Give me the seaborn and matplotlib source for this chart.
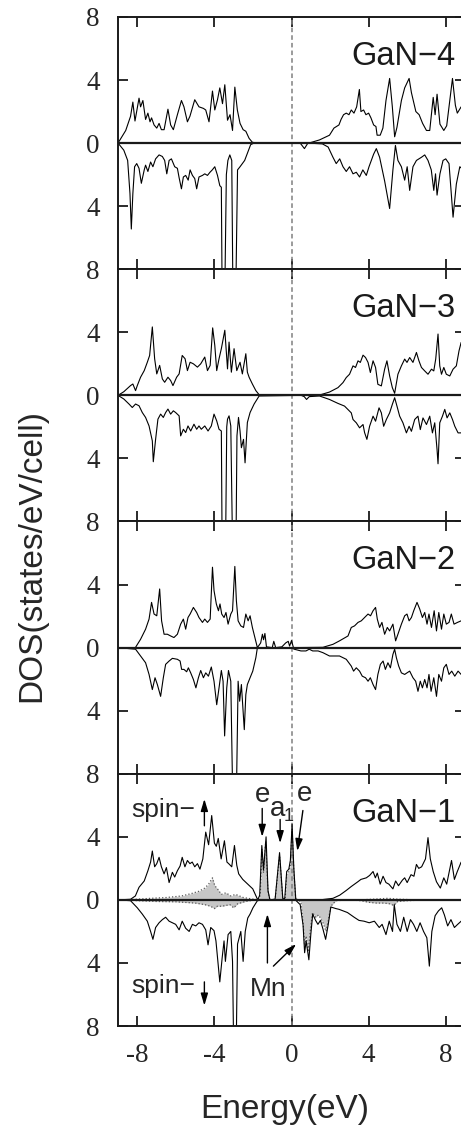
import seaborn as sns
import matplotlib.pyplot as plt
import pandas as pd

# DOS: (energy in eV, DOS). spin-down stored as magnitudes
gan4_up = [(-9.0, 0), (-8.6, 0.8), (-8.35, 1.7), (-8.23, 2.6), (-8.12, 1.4), (-7.91, 2.85), (-7.83, 2.3), (-7.71, 2.7),
           (-7.57, 1.5), (-7.45, 1.9), (-7.34, 1.35), (-7.26, 1.6), (-7.13, 1.15), (-6.99, 0.95), (-6.87, 1.25),
           (-6.75, 0.85), (-6.61, 0.85), (-6.41, 2.15), (-6.27, 1.15), (-6.13, 0.85), (-5.92, 1.8), (-5.71, 2.7),
           (-5.58, 2.3), (-5.40, 1.35), (-5.27, 1.7), (-5.02, 2.75), (-4.80, 2.3), (-4.57, 2.2), (-4.45, 2.1),
           (-4.28, 1.35), (-4.10, 3.3), (-3.98, 2.1), (-3.84, 2.75), (-3.72, 3.5), (-3.58, 2.5), (-3.46, 3.7),
           (-3.32, 1.45), (-3.19, 1.8), (-3.06, 0.8), (-2.94, 3.55), (-2.81, 2.1), (-2.67, 1.25), (-2.51, 0.85),
           (-2.37, 0.75), (-2.20, 0.3), (-2.03, 0.05), (-1.77, 0.0), (0.9, 0.0), (1.45, 0.2), (1.97, 0.5), (2.2, 0.95),
           (2.46, 1.15), (2.57, 1.5), (2.7, 1.8), (2.84, 1.9), (2.98, 1.8), (3.1, 2.1), (3.24, 1.9), (3.38, 2.3),
           (3.52, 3.4), (3.6, 2.0), (3.74, 2.1), (3.86, 1.8), (4.0, 1.9), (4.12, 1.6), (4.26, 1.15), (4.38, 1.05),
           (4.44, 0.5), (4.6, 0.5), (4.74, 0.95), (4.9, 2.7), (5.09, 4.1), (5.23, 2.3), (5.35, 0.4), (5.47, 1.0),
           (5.7, 2.7), (5.87, 3.5), (6.1, 4.1), (6.22, 3.2), (6.45, 2.0), (6.62, 1.8), (6.8, 1.25), (7.0, 0.8),
           (7.17, 0.8), (7.35, 2.9), (7.45, 1.8), (7.55, 3.1), (7.7, 1.2), (7.9, 0.8), (8.05, 1.1), (8.2, 2.6),
           (8.35, 4.1), (8.5, 2.4), (8.6, 1.9), (8.8, 2.3), (9.0, 2.0)]
gan4_dn = [(-9.0, 0), (-8.7, 0.45), (-8.5, 1.1), (-8.38, 3.2), (-8.31, 5.45), (-8.23, 3.2), (-8.14, 1.5), (-8.03, 1.3),
           (-7.91, 1.6), (-7.79, 2.55), (-7.64, 1.7), (-7.57, 1.4), (-7.45, 1.8), (-7.31, 1.2), (-7.19, 1.5),
           (-7.05, 1.0), (-6.87, 0.75), (-6.70, 0.85), (-6.58, 1.1), (-6.47, 1.95), (-6.35, 1.1), (-6.23, 1.0),
           (-6.06, 1.5), (-5.92, 1.6), (-5.83, 2.2), (-5.71, 2.9), (-5.61, 2.15), (-5.49, 2.05), (-5.36, 2.35),
           (-5.26, 1.7), (-5.14, 2.05), (-5.02, 2.25), (-4.92, 2.9), (-4.80, 2.15), (-4.62, 2.05), (-4.50, 1.95),
           (-4.36, 2.05), (-4.23, 1.85), (-4.11, 1.7), (-3.98, 1.5), (-3.84, 2.05), (-3.72, 2.7), (-3.64, 2.8),
           (-3.6, 9.5), (-3.46, 9.5), (-3.38, 2.0), (-3.30, 1.1), (-3.20, 0.75), (-3.1, 1.1), (-3.04, 9.5),
           (-2.89, 9.5), (-2.80, 1.7), (-2.67, 1.5), (-2.55, 1.3), (-2.43, 1.1), (-2.29, 0.65), (-2.12, 0.1),
           (-1.95, 0.0), (0.45, 0.0), (0.67, 0.35), (0.85, 0.0), (1.6, 0.05), (1.9, 0.25), (2.15, 0.9), (2.32, 1.3),
           (2.5, 1.0), (2.67, 1.5), (2.84, 1.8), (3.01, 1.5), (3.19, 1.95), (3.36, 1.85), (3.53, 2.15), (3.7, 1.7),
           (3.88, 2.05), (4.02, 1.5), (4.14, 1.1), (4.26, 0.7), (4.4, 0.35), (4.57, 0.9), (4.83, 2.4), (5.09, 4.15),
           (5.26, 1.7), (5.39, 0.15), (5.52, 1.1), (5.7, 1.5), (5.87, 2.35), (6.0, 1.5), (6.13, 3.0), (6.3, 1.5),
           (6.48, 1.1), (6.74, 0.9), (6.91, 0.75), (7.08, 1.1), (7.25, 1.7), (7.38, 3.0), (7.47, 1.95), (7.55, 3.3),
           (7.7, 1.95), (7.86, 1.1), (8.0, 1.0), (8.17, 1.3), (8.38, 4.7), (8.55, 2.6), (8.73, 1.5), (9.0, 1.8)]

gan3_up = [(-9.0, 0), (-8.7, 0.23), (-8.35, 0.62), (-8.23, 0.72), (-8.09, 0.3), (-8.0, 0.62), (-7.83, 1.15),
           (-7.64, 1.57), (-7.48, 2.1), (-7.36, 2.53), (-7.22, 4.34), (-7.1, 2.32), (-6.99, 1.36), (-6.84, 1.9),
           (-6.7, 1.04), (-6.58, 0.83), (-6.41, 1.15), (-6.27, 0.94), (-6.15, 0.62), (-5.96, 1.15), (-5.83, 1.36),
           (-5.67, 2.53), (-5.52, 2.32), (-5.4, 1.57), (-5.26, 2.1), (-5.09, 2.0), (-4.88, 1.79), (-4.71, 2.0),
           (-4.5, 2.43), (-4.36, 1.57), (-4.22, 1.9), (-4.09, 4.28), (-3.98, 3.17), (-3.88, 1.57), (-3.76, 2.32),
           (-3.64, 2.96), (-3.46, 4.13), (-3.32, 1.68), (-3.24, 3.38), (-3.12, 1.47), (-2.98, 2.96), (-2.84, 1.57),
           (-2.67, 2.1), (-2.55, 1.36), (-2.37, 2.64), (-2.29, 1.47), (-2.2, 1.15), (-2.03, 0.72), (-1.85, 0.3),
           (-1.68, 0.04), (-1.42, 0.05), (-1.0, 0.02), (0.9, 0.0), (1.45, 0.02), (1.97, 0.21), (2.41, 0.49),
           (2.67, 0.81), (2.84, 1.13), (3.01, 1.34), (3.19, 1.87), (3.32, 1.77), (3.45, 2.19), (3.57, 2.09),
           (3.71, 2.55), (3.84, 2.4), (3.97, 2.09), (4.09, 1.45), (4.23, 2.19), (4.36, 1.77), (4.48, 0.7), (4.66, 0.6),
           (4.83, 1.66), (4.95, 2.19), (5.09, 1.23), (5.23, 0.49), (5.35, 0.13), (5.52, 1.34), (5.7, 1.87),
           (5.87, 2.3), (5.99, 2.09), (6.13, 2.4), (6.3, 2.09), (6.48, 2.72), (6.61, 2.19), (6.74, 1.77), (6.91, 1.55),
           (7.08, 1.34), (7.26, 1.66), (7.38, 1.55), (7.48, 2.3), (7.6, 3.89), (7.69, 1.87), (7.78, 1.34), (7.9, 1.77),
           (8.03, 1.34), (8.21, 1.23), (8.38, 1.66), (8.55, 1.87), (8.69, 2.83), (8.8, 3.36), (9.0, 3.0)]
gan3_dn = [(-9.0, 0), (-8.7, 0.23), (-8.43, 0.55), (-8.26, 0.77), (-8.09, 0.55), (-7.91, 0.66), (-7.74, 1.09),
           (-7.57, 1.4), (-7.39, 1.94), (-7.22, 2.89), (-7.17, 4.21), (-7.05, 2.79), (-6.93, 1.51), (-6.79, 1.19),
           (-6.65, 1.4), (-6.53, 1.09), (-6.41, 0.87), (-6.27, 1.19), (-6.13, 0.98), (-6.01, 1.09), (-5.83, 1.3),
           (-5.75, 2.57), (-5.61, 2.15), (-5.49, 2.36), (-5.37, 1.94), (-5.23, 2.26), (-5.06, 1.83), (-4.92, 2.15),
           (-4.8, 1.94), (-4.68, 2.15), (-4.5, 1.94), (-4.33, 2.26), (-4.16, 1.94), (-4.02, 1.19), (-3.88, 1.62),
           (-3.76, 2.15), (-3.64, 2.26), (-3.6, 9.5), (-3.42, 9.5), (-3.36, 2.0), (-3.32, 1.51), (-3.24, 1.3),
           (-3.15, 1.94), (-3.06, 9.5), (-2.88, 9.5), (-2.83, 2.57), (-2.75, 1.4), (-2.67, 2.26), (-2.6, 3.32),
           (-2.49, 2.79), (-2.41, 4.28), (-2.29, 1.72), (-2.15, 1.09), (-1.94, 0.55), (-1.68, 0.04), (0.5, 0.0),
           (0.66, 0.08), (0.78, 0.26), (0.92, 0.08), (1.45, 0.04), (1.97, 0.26), (2.41, 0.51), (2.75, 0.68),
           (3.1, 1.11), (3.19, 1.53), (3.36, 1.74), (3.53, 2.06), (3.71, 1.85), (3.79, 2.36), (3.91, 2.79),
           (4.05, 1.96), (4.23, 1.32), (4.36, 1.64), (4.54, 0.79), (4.66, 1.11), (4.78, 1.96), (4.92, 1.53),
           (5.09, 1.11), (5.23, 0.57), (5.35, 0.15), (5.47, 0.68), (5.61, 1.32), (5.78, 1.74), (5.96, 2.38),
           (6.1, 1.96), (6.22, 2.28), (6.39, 1.53), (6.56, 1.32), (6.68, 2.17), (6.82, 1.43), (7.0, 1.85),
           (7.17, 1.32), (7.31, 2.38), (7.43, 1.74), (7.55, 3.45), (7.6, 4.34), (7.69, 1.74), (7.83, 1.32),
           (7.95, 0.89), (8.07, 1.43), (8.21, 1.11), (8.35, 1.53), (8.47, 1.96), (8.64, 2.38), (8.8, 2.38), (9.0, 2.0)]

gan2_up = [(-9.0, 0), (-8.1, 0.0), (-7.83, 0.53), (-7.57, 1.17), (-7.39, 1.81), (-7.26, 2.87), (-7.13, 2.13),
           (-6.99, 2.02), (-6.84, 3.72), (-6.74, 1.7), (-6.61, 0.85), (-6.44, 0.85), (-6.27, 0.74), (-6.1, 0.64),
           (-5.92, 0.85), (-5.75, 1.49), (-5.61, 1.81), (-5.49, 1.17), (-5.37, 1.91), (-5.26, 2.13), (-5.09, 2.55),
           (-4.92, 2.23), (-4.8, 1.91), (-4.62, 1.6), (-4.5, 1.81), (-4.36, 1.6), (-4.22, 1.81), (-4.1, 5.1),
           (-4.02, 3.62), (-3.9, 2.77), (-3.79, 2.34), (-3.71, 2.77), (-3.62, 2.13), (-3.5, 1.91), (-3.4, 2.23),
           (-3.29, 1.49), (-3.15, 2.13), (-3.06, 2.34), (-2.94, 5.15), (-2.86, 2.98), (-2.77, 1.7), (-2.63, 1.38),
           (-2.49, 1.28), (-2.37, 2.13), (-2.25, 1.7), (-2.15, 2.02), (-2.03, 1.28), (-1.9, 0.64), (-1.77, 0.0),
           (-1.6, 0.3), (-1.51, 0.85), (-1.45, 0.5), (-1.38, 0.9), (-1.3, 0.05), (-1.0, 0.0), (-0.92, 0.4),
           (-0.82, 0.0), (-0.5, 0.05), (-0.3, 0.3), (-0.17, 0.4), (-0.1, 0.1), (0.0, 0.45), (0.1, 0.0), (1.63, 0.02),
           (2.15, 0.21), (2.49, 0.43), (2.93, 0.74), (3.1, 1.28), (3.27, 1.38), (3.45, 1.6), (3.62, 1.7), (3.79, 1.91),
           (3.97, 2.13), (4.1, 2.02), (4.23, 2.34), (4.36, 2.55), (4.45, 1.81), (4.57, 1.28), (4.69, 1.6),
           (4.83, 0.85), (4.97, 1.28), (5.09, 1.06), (5.26, 1.49), (5.4, 0.43), (5.52, 0.85), (5.7, 1.49),
           (5.87, 2.02), (5.99, 2.13), (6.1, 1.7), (6.22, 1.91), (6.34, 2.34), (6.51, 2.87), (6.65, 2.45),
           (6.79, 1.91), (6.91, 2.23), (7.03, 1.49), (7.13, 2.13), (7.26, 1.28), (7.4, 2.34), (7.52, 1.06),
           (7.64, 2.23), (7.78, 1.17), (7.9, 2.13), (8.03, 1.49), (8.17, 1.6), (8.29, 2.13), (8.43, 1.49),
           (8.61, 1.6), (8.8, 1.7), (9.0, 1.6)]
gan2_dn = [(-9.0, 0), (-8.09, 0.1), (-7.83, 0.53), (-7.57, 0.96), (-7.39, 1.7), (-7.22, 2.66), (-7.08, 1.91),
           (-6.96, 2.34), (-6.79, 3.09), (-6.65, 1.91), (-6.53, 1.06), (-6.35, 0.85), (-6.18, 0.68), (-5.92, 0.74),
           (-5.78, 0.85), (-5.7, 1.38), (-5.58, 1.38), (-5.44, 1.53), (-5.35, 1.28), (-5.23, 1.6), (-5.09, 2.02),
           (-4.96, 2.55), (-4.83, 1.91), (-4.71, 1.45), (-4.57, 1.91), (-4.45, 1.6), (-4.31, 1.81), (-4.16, 1.23),
           (-4.02, 2.13), (-3.88, 3.62), (-3.76, 2.55), (-3.64, 1.45), (-3.55, 2.13), (-3.47, 5.6), (-3.36, 2.55),
           (-3.27, 1.45), (-3.15, 2.13), (-3.05, 9.5), (-2.86, 9.5), (-2.77, 2.13), (-2.69, 3.4), (-2.6, 2.34),
           (-2.45, 5.2), (-2.37, 2.98), (-2.29, 2.34), (-2.15, 1.91), (-2.01, 1.49), (-1.85, 0.64), (-1.77, 0.0),
           (0.0, 0.0), (0.14, 0.1), (0.49, 0.21), (0.75, 0.21), (0.92, 0.1), (1.1, 0.21), (1.38, 0.21), (1.63, 0.32),
           (1.97, 0.53), (2.49, 0.53), (2.84, 0.74), (3.1, 1.17), (3.22, 1.49), (3.36, 1.28), (3.53, 1.49),
           (3.67, 1.81), (3.84, 1.91), (3.97, 2.13), (4.09, 1.91), (4.23, 2.34), (4.36, 2.66), (4.48, 1.7),
           (4.61, 1.06), (4.75, 0.85), (4.87, 1.38), (5.0, 0.96), (5.13, 1.28), (5.26, 0.43), (5.35, 0.1),
           (5.44, 0.64), (5.56, 1.17), (5.7, 1.6), (5.87, 1.7), (5.99, 1.6), (6.13, 1.49), (6.3, 1.91), (6.44, 2.13),
           (6.56, 2.77), (6.68, 2.13), (6.79, 2.55), (6.91, 2.02), (7.03, 2.55), (7.13, 1.7), (7.24, 2.77),
           (7.38, 1.91), (7.52, 3.09), (7.64, 1.7), (7.78, 2.13), (7.9, 1.28), (8.03, 1.06), (8.17, 1.7),
           (8.31, 1.49), (8.47, 1.81), (8.64, 1.49), (8.8, 1.7), (9.0, 1.6)]

gan1_up = [(-9.0, 0), (-8.35, 0.04), (-8.1, 0.25), (-7.91, 0.8), (-7.64, 1.2), (-7.45, 1.85), (-7.31, 2.4),
           (-7.22, 3.1), (-7.1, 2.1), (-6.99, 2.3), (-6.87, 2.7), (-6.75, 2.1), (-6.61, 1.65), (-6.49, 2.05),
           (-6.35, 1.1), (-6.18, 1.75), (-6.06, 1.45), (-5.92, 1.85), (-5.78, 2.15), (-5.67, 2.7), (-5.53, 2.1),
           (-5.4, 2.5), (-5.27, 2.3), (-5.15, 2.4), (-5.02, 2.1), (-4.88, 2.3), (-4.75, 1.95), (-4.6, 2.6),
           (-4.45, 4.3), (-4.3, 3.5), (-4.14, 5.35), (-4.0, 3.6), (-3.9, 3.4), (-3.8, 3.9), (-3.65, 2.6), (-3.48, 3.75),
           (-3.35, 2.4), (-3.26, 2.3), (-3.1, 2.1), (-2.96, 3.45), (-2.84, 2.2), (-2.74, 1.65), (-2.53, 1.3),
           (-2.27, 1.0), (-2.01, 0.7), (-1.75, 0.0), (-1.65, 0.3), (-1.54, 3.45), (-1.45, 1.9), (-1.32, 4.0),
           (-1.22, 0.6), (-1.12, 0.0), (-0.85, 0.05), (-0.62, 3.0), (-0.45, 0.05), (-0.35, 0.1), (-0.25, 1.8),
           (-0.14, 1.95), (-0.06, 2.5), (0.03, 4.8), (0.12, 2.0), (0.22, 0.05), (0.4, 0.0), (1.2, 0.0), (1.6, 0.02),
           (2.15, 0.1), (2.5, 0.3), (2.84, 0.6), (3.1, 0.85), (3.44, 1.15), (3.6, 1.3), (3.88, 1.4), (4.05, 1.55),
           (4.23, 1.8), (4.35, 1.4), (4.45, 1.7), (4.6, 1.0), (4.75, 1.5), (4.9, 1.1), (5.05, 1.0), (5.26, 0.7),
           (5.4, 1.2), (5.55, 0.9), (5.75, 1.25), (5.87, 1.4), (6.0, 1.1), (6.2, 1.6), (6.35, 1.5), (6.48, 2.25),
           (6.6, 2.0), (6.75, 2.1), (6.95, 2.6), (7.08, 3.95), (7.2, 2.6), (7.35, 1.8), (7.52, 1.15), (7.72, 0.75),
           (7.9, 1.4), (8.05, 1.0), (8.3, 2.5), (8.45, 1.3), (8.6, 1.8), (8.8, 2.4), (9.0, 1.8)]
gan1_dn = [(-9.0, 0), (-8.35, 0.05), (-8.0, 0.5), (-7.74, 0.9), (-7.48, 1.35), (-7.31, 2.0), (-7.19, 2.5),
           (-7.05, 1.75), (-6.87, 1.45), (-6.7, 1.25), (-6.53, 1.1), (-6.35, 1.35), (-6.18, 1.45), (-6.01, 1.55),
           (-5.83, 1.9), (-5.67, 1.35), (-5.49, 1.8), (-5.31, 2.0), (-5.14, 1.55), (-4.97, 1.65), (-4.8, 1.45),
           (-4.62, 1.55), (-4.45, 1.9), (-4.33, 2.85), (-4.19, 1.75), (-4.02, 1.95), (-3.92, 2.6), (-3.72, 5.2),
           (-3.6, 3.7), (-3.5, 2.6), (-3.43, 3.9), (-3.29, 2.2), (-3.15, 2.0), (-3.06, 3.9), (-3.0, 9.5),
           (-2.87, 9.5), (-2.8, 2.8), (-2.63, 2.0), (-2.51, 3.9), (-2.4, 2.0), (-2.27, 1.15), (-2.15, 0.9),
           (-2.0, 0.5), (-1.77, 0.05), (-1.5, 0.0), (0.2, 0.0), (0.45, 0.3), (0.6, 1.6), (0.68, 3.35), (0.76, 2.6),
           (0.9, 3.8), (1.0, 2.2), (1.1, 0.9), (1.25, 1.3), (1.37, 1.55), (1.5, 1.3), (1.62, 1.8), (1.77, 2.5),
           (1.9, 1.6), (2.04, 0.45), (2.3, 0.55), (2.47, 0.6), (2.9, 0.8), (3.25, 1.1), (3.5, 1.3), (3.76, 1.35),
           (4.03, 1.45), (4.3, 1.35), (4.55, 1.75), (4.7, 1.55), (4.9, 2.2), (5.07, 1.35), (5.24, 2.0), (5.33, 0.3),
           (5.47, 1.55), (5.65, 2.0), (5.82, 1.1), (6.0, 2.0), (6.17, 1.25), (6.33, 1.55), (6.5, 2.0), (6.67, 1.45),
           (6.85, 2.0), (7.02, 2.4), (7.15, 4.2), (7.28, 2.0), (7.45, 1.0), (7.62, 0.7), (7.79, 0.5), (7.93, 0.95),
           (8.1, 1.65), (8.27, 1.25), (8.45, 1.75), (8.62, 1.55), (8.8, 1.35), (9.0, 1.5)]

# Mn projected DOS in GaN-1 (dotted, shaded)
mn_up = [(-8.6, 0), (-8.0, 0.05), (-7.3, 0.1), (-6.5, 0.15), (-5.7, 0.25), (-5.2, 0.4), (-4.8, 0.55), (-4.5, 0.75),
         (-4.3, 1.0), (-4.1, 1.4), (-3.98, 0.9), (-3.84, 0.7), (-3.64, 0.35), (-3.4, 0.45), (-3.15, 0.25),
         (-2.9, 0.35), (-2.5, 0.15), (-2.0, 0.05), (-1.7, 0.0), (-1.62, 0.3), (-1.54, 3.2), (-1.45, 1.7),
         (-1.34, 3.7), (-1.22, 0.5), (-1.12, 0.0), (-0.85, 0.0), (-0.62, 2.8), (-0.45, 0.0), (-0.33, 0.05),
         (-0.25, 1.6), (-0.14, 1.8), (-0.06, 2.2), (0.03, 4.5), (0.12, 1.8), (0.22, 0.0), (0.5, 0.0), (3.5, 0.0),
         (4.3, 0.05), (5.0, 0.1), (5.5, 0.05), (6.5, 0.0), (9.0, 0.0)]
mn_dn = [(-8.6, 0), (-8.0, 0.05), (-7.0, 0.1), (-6.0, 0.12), (-5.0, 0.2), (-4.5, 0.3), (-4.2, 0.4), (-4.0, 0.55),
         (-3.85, 0.4), (-3.6, 0.4), (-3.4, 0.35), (-3.2, 0.3), (-3.0, 0.5), (-2.8, 0.25), (-2.4, 0.1), (-2.0, 0.02),
         (-1.7, 0.0), (0.3, 0.0), (0.48, 0.1), (0.6, 1.4), (0.68, 2.9), (0.76, 2.3), (0.86, 3.3), (0.97, 2.0),
         (1.09, 0.8), (1.26, 1.1), (1.4, 0.95), (1.52, 1.2), (1.65, 1.5), (1.79, 2.0), (1.91, 1.3), (2.04, 0.4),
         (2.3, 0.05), (3.0, 0.0), (3.6, 0.05), (4.0, 0.15), (4.4, 0.2), (4.8, 0.2), (5.1, 0.25), (5.3, 0.35),
         (5.5, 0.1), (6.0, 0.05), (7.0, 0.0), (9.0, 0.0)]

panel_names = ['GaN\u22124', 'GaN\u22123', 'GaN\u22122', 'GaN\u22121']
panels = [(gan4_up, gan4_dn), (gan3_up, gan3_dn), (gan2_up, gan2_dn), (gan1_up, gan1_dn)]
x_ticks = [-8, -4, 0, 4, 8]
x_ticklabels = ['-8', '-4', '0', '4', '8']
y_ticks = [-8, -4, 0, 4, 8]
y_ticklabels = ['8', '4', '0', '4', '8']

sns.set_style("ticks")
plt.rcParams['font.family'] = ['Liberation Sans', 'DejaVu Sans']
plt.rcParams['axes.unicode_minus'] = False
serif = ['Liberation Serif', 'DejaVu Serif']


def to_df(pairs):
    return pd.DataFrame(pairs, columns=['energy', 'dos'])


def arrow(ax, tail, head):
    ax.annotate('', xy=head, xytext=tail,
                arrowprops=dict(arrowstyle='-|>,head_length=0.6,head_width=0.18', mutation_scale=12,
                                color='black', lw=1.0, shrinkA=0, shrinkB=0))


fig, axes = plt.subplots(4, 1, sharex=True, figsize=(4.61, 11.3), dpi=100)
fig.subplots_adjust(left=0.256, right=1.0087, top=0.985, bottom=0.092, hspace=0)

for i, ax in enumerate(axes):
    up, dn = to_df(panels[i][0]), to_df(panels[i][1])
    if i == 3:
        mu, md = to_df(mn_up), to_df(mn_dn)
        ax.fill_between(mu.energy, 0, mu.dos, color='0.78', lw=0)
        ax.fill_between(md.energy, 0, -md.dos, color='0.78', lw=0)
        sns.lineplot(x=mu.energy, y=mu.dos, ax=ax, color='0.35', lw=0.9, ls=':', sort=False, estimator=None)
        sns.lineplot(x=md.energy, y=-md.dos, ax=ax, color='0.35', lw=0.9, ls=':', sort=False, estimator=None)
    sns.lineplot(x=up.energy, y=up.dos, ax=ax, color='black', lw=0.8, sort=False, estimator=None)
    sns.lineplot(x=dn.energy, y=-dn.dos, ax=ax, color='black', lw=0.8, sort=False, estimator=None)
    ax.axhline(0, color='#1a1a1a', lw=1.6, zorder=3)
    ax.axvline(0, color='0.5', lw=1.1, ls=(0, (3, 2)), zorder=1)

    ax.set_xlim(-9, 9)
    ax.set_ylim(-8, 8)
    ax.set_xticks(x_ticks)
    ax.set_yticks(y_ticks)
    ylabels = y_ticklabels if i == 0 else y_ticklabels[:-1] + ['']
    ax.set_yticklabels(ylabels, fontfamily=serif, fontsize=19.5)
    ax.set_xticklabels(x_ticklabels, fontfamily=serif, fontsize=19.5)
    ax.tick_params(direction='in', length=7, width=1.3, top=True, right=True, color='#1a1a1a')
    ax.tick_params(axis='y', pad=13)
    ax.tick_params(axis='x', pad=12, labelbottom=(i == 3))
    ax.set_xlabel('')
    ax.set_ylabel('')
    for s in ax.spines.values():
        s.set_linewidth(1.4)
        s.set_color('#1a1a1a')
    ax.text(8.5, 5.5, panel_names[i], ha='right', va='center', fontsize=23.5, color='#1a1a1a')

# annotations in GaN-1
ax = axes[3]
ax.text(-8.31, 5.25, 'spin\u2212', ha='left', va='baseline', fontsize=19)
arrow(ax, (-4.52, 4.7), (-4.52, 6.4))
ax.text(-8.31, -5.9, 'spin\u2212', ha='left', va='baseline', fontsize=19)
arrow(ax, (-4.52, -5.2), (-4.52, -6.7))
ax.text(-1.51, 6.2, 'e', ha='center', va='baseline', fontsize=20)
arrow(ax, (-1.52, 5.8), (-1.52, 4.0))
ax.text(-1.14, 5.35, 'a', ha='left', va='baseline', fontsize=20)
ax.text(-0.42, 5.0, '1', ha='left', va='baseline', fontsize=13)
arrow(ax, (-0.59, 5.1), (-0.59, 3.6))
ax.text(0.68, 6.26, 'e', ha='center', va='baseline', fontsize=20)
arrow(ax, (0.59, 5.67), (0.3, 3.1))
ax.text(-1.22, -6.1, 'Mn', ha='center', va='baseline', fontsize=19)
arrow(ax, (-1.25, -4.0), (-1.25, -0.9))
arrow(ax, (-0.94, -4.2), (0.24, -2.8))

fig.text(0.069, 0.508, 'DOS(states/eV/cell)', rotation=90, ha='center', va='center', fontsize=24)
fig.text(0.618, 0.018, 'Energy(eV)', ha='center', va='center', fontsize=24)

fig.savefig('out.png', dpi=100)
